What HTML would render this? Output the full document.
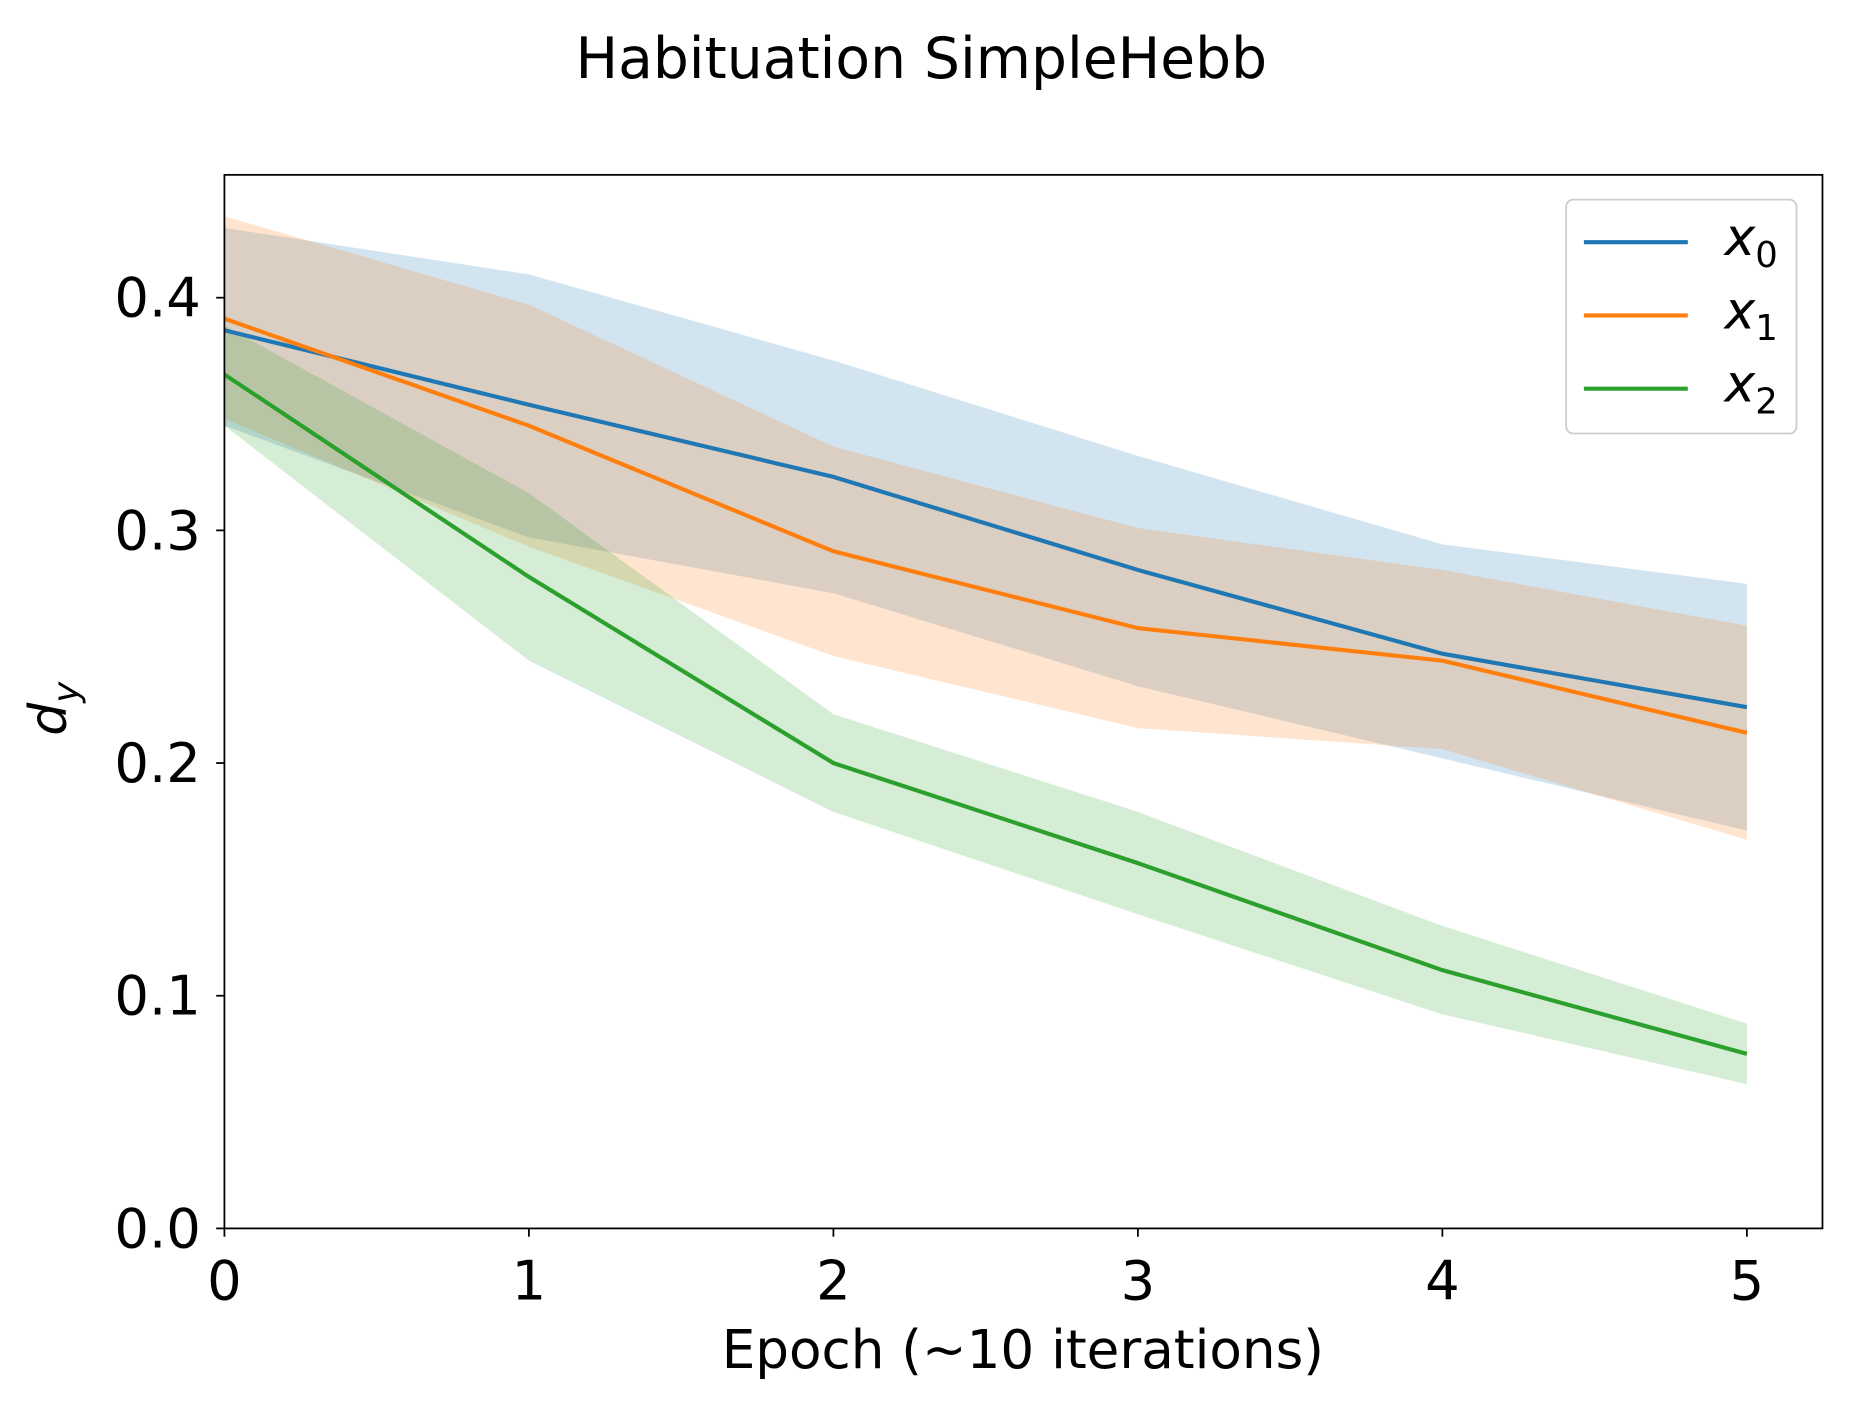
<!DOCTYPE html>
<html><head><meta charset="utf-8"><style>body{margin:0;background:#fff}svg{display:block}text{font-family:"DejaVu Sans","Liberation Sans",sans-serif;fill:#000}</style></head>
<body>
<svg id="chart" width="1852" height="1408" viewBox="0 0 1568 1192" xmlns="http://www.w3.org/2000/svg">
<rect width="1568" height="1192" fill="#fff"/>
<text x="780" y="66" font-size="48" text-anchor="middle">Habituation SimpleHebb</text>
<g id="bands"></g><g id="lines"></g><g id="ticks"></g>
<rect x="190" y="148" width="1353" height="892" fill="none" stroke="#000" stroke-width="1.5"/>
<text x="866" y="1158" font-size="45" text-anchor="middle">Epoch (~10 iterations)</text>
<text transform="translate(56,600) rotate(-90)" font-size="44" text-anchor="middle" font-style="italic">d<tspan font-size="30" dy="10">y</tspan></text>
<g>
<rect x="1326" y="169" width="195" height="198" rx="6" fill="#fff" fill-opacity="0.8" stroke="#ccc" stroke-width="1.5"/>
<line x1="1341" y1="205" x2="1429" y2="205" stroke="#1f77b4" stroke-width="3.5"/>
<text x="1460" y="216" font-size="44" font-style="italic">x<tspan font-size="30" dy="10" font-style="normal">0</tspan></text>
<line x1="1341" y1="267" x2="1429" y2="267" stroke="#ff7f0e" stroke-width="3.5"/>
<text x="1460" y="278" font-size="44" font-style="italic">x<tspan font-size="30" dy="10" font-style="normal">1</tspan></text>
<line x1="1341" y1="329" x2="1429" y2="329" stroke="#2ca02c" stroke-width="3.5"/>
<text x="1460" y="340" font-size="44" font-style="italic">x<tspan font-size="30" dy="10" font-style="normal">2</tspan></text>
</g>
</svg>
<script>
const epochs=[0,1,2,3,4,5];
const x0Mean=[0.386,0.354,0.323,0.283,0.247,0.224];
const x0Upper=[0.430,0.410,0.373,0.332,0.294,0.277];
const x0Lower=[0.345,0.297,0.273,0.233,0.202,0.171];
const x1Mean=[0.391,0.345,0.291,0.258,0.244,0.213];
const x1Upper=[0.435,0.397,0.336,0.301,0.283,0.259];
const x1Lower=[0.348,0.293,0.246,0.215,0.206,0.167];
const x2Mean=[0.367,0.280,0.200,0.157,0.111,0.075];
const x2Upper=[0.388,0.316,0.221,0.179,0.130,0.088];
const x2Lower=[0.345,0.244,0.179,0.135,0.092,0.062];
const xTicks=[0,1,2,3,4,5];
const yTicks=[0.0,0.1,0.2,0.3,0.4];
const NS='http://www.w3.org/2000/svg';
const sx=v=>190+v*257.8;
const sy=v=>1040-v*1970;
function mk(t,a,p){const e=document.createElementNS(NS,t);for(const k in a)e.setAttribute(k,a[k]);p.appendChild(e);return e;}
const series=[[x0Mean,x0Upper,x0Lower,'#1f77b4','x0'],[x1Mean,x1Upper,x1Lower,'#ff7f0e','x1'],[x2Mean,x2Upper,x2Lower,'#2ca02c','x2']];
const bands=document.getElementById('bands'),lines=document.getElementById('lines'),ticks=document.getElementById('ticks');
series.forEach(([m,u,l,c,n])=>{
 let d=epochs.map((e,i)=>(i?'L':'M')+sx(e)+','+sy(u[i])).join('');
 d+=epochs.slice().reverse().map((e,j)=>'L'+sx(e)+','+sy(l[epochs.length-1-j])).join('')+'Z';
 const b=mk('path',{d:d,fill:c,'fill-opacity':0.2},bands);
 
 
 const p=mk('polyline',{points:epochs.map((e,i)=>sx(e)+','+sy(m[i])).join(' '),fill:'none',stroke:c,'stroke-width':3.5},lines);
 
 
});
xTicks.forEach(v=>{
 const g=mk('g',{},ticks);
 
 
 mk('line',{x1:sx(v),x2:sx(v),y1:1040,y2:1047,stroke:'#000','stroke-width':1.5},g);
 mk('text',{x:sx(v),y:1100,'font-size':46,'text-anchor':'middle'},g).textContent=v;
});
yTicks.forEach(v=>{
 const g=mk('g',{},ticks);
 
 
 mk('line',{x1:183,x2:190,y1:sy(v),y2:sy(v),stroke:'#000','stroke-width':1.5},g);
 mk('text',{x:170,y:sy(v)+16,'font-size':46,'text-anchor':'end'},g).textContent=v.toFixed(1);
});
</script>
</body></html>
